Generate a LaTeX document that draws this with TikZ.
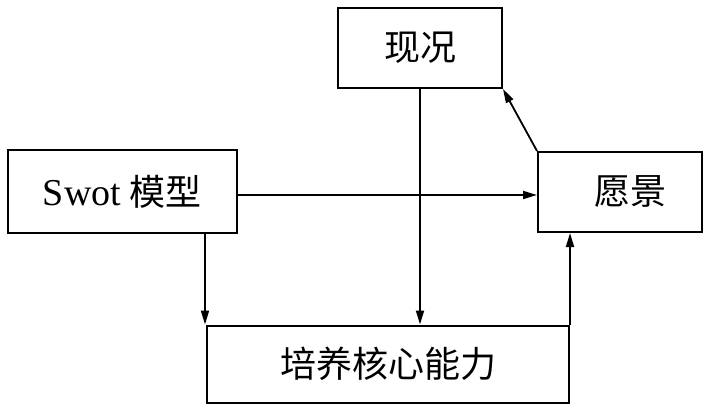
\documentclass[tikz,border=0pt]{standalone}
\usepackage{fontspec}
\setmainfont{Liberation Serif}
\newfontfamily\cjk{Noto Sans CJK SC}
\usetikzlibrary{arrows.meta}
\begin{document}
\begin{tikzpicture}[x=1pt,y=-1pt,
  boxnode/.style={draw,line width=2pt,inner sep=0pt,font=\fontsize{36}{36}\selectfont\cjk},
  conn/.style={line width=1.8pt,-{Triangle[length=14pt,width=8pt]}},
  plain/.style={line width=1.8pt}]
\useasboundingbox (0,0) rectangle (709,415);
\node[boxnode,minimum width=164pt,minimum height=80pt] (xk) at (420,48) {现况};
\node[boxnode,minimum width=229pt,minimum height=83pt] (swot) at (122,191.5) {{\rmfamily\fontsize{38}{38}\selectfont Swot} 模型};
\node[boxnode,minimum width=164pt,minimum height=80pt] (yj) at (620,192) {\hspace{20pt}愿景};
\node[boxnode,minimum width=362pt,minimum height=77pt] (px) at (388,364) {培养核心能力};
\draw[conn] (swot.east |- 0,195) -- (yj.west |- 0,195);
\draw[conn] (swot.south -| 205,0) -- (px.north -| 205,0);
\draw[conn] (xk.south) -- (px.north -| xk.south);
\draw[conn] (px.north east) -- (yj.south -| px.north east);
\draw[conn] (yj.north west) -- (xk.south east);
\end{tikzpicture}
\end{document}
